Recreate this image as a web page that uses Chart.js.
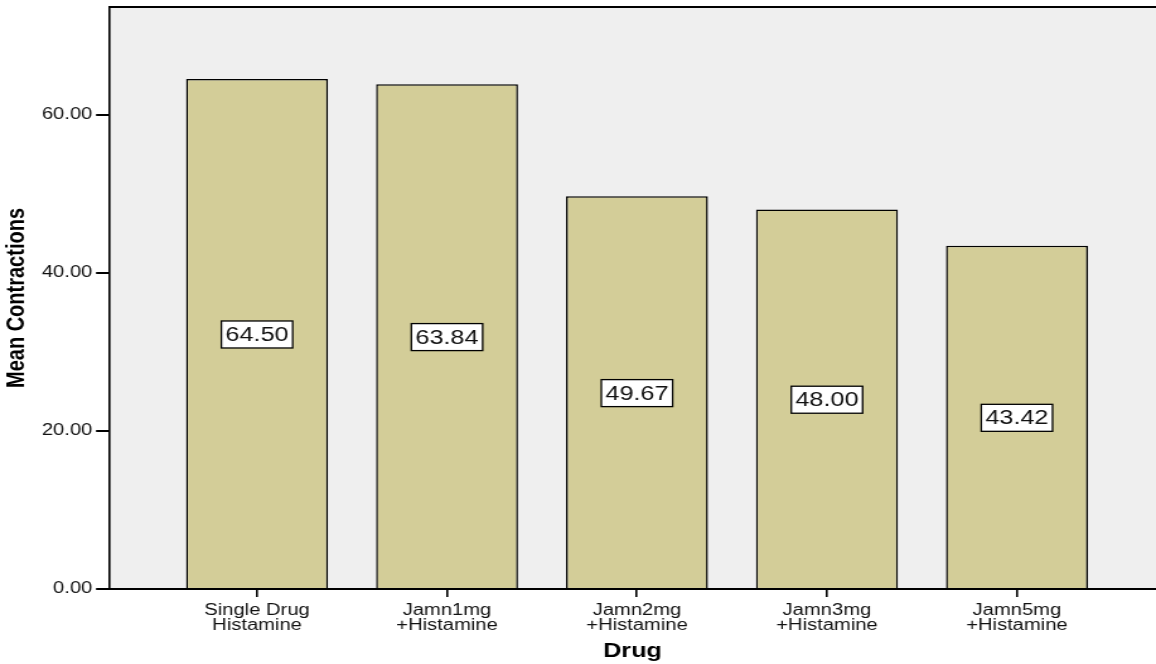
<!DOCTYPE html>
<html>
<head>
<meta charset="utf-8">
<script src="https://cdn.jsdelivr.net/npm/chart.js@4/dist/chart.umd.min.js"></script>
<style>
  html, body { margin: 0; padding: 0; background: #ffffff; overflow: hidden; }
  #wrap { width: 917px; height: 664px; transform: scaleX(1.2606); transform-origin: 0 0; }
</style>
</head>
<body>
<div id="wrap"><canvas id="c" width="917" height="664"></canvas></div>
<script>
// Mean contractions per drug treatment
const categories = [
  ['Single Drug', 'Histamine'],
  ['Jamn1mg', '+Histamine'],
  ['Jamn2mg', '+Histamine'],
  ['Jamn3mg', '+Histamine'],
  ['Jamn5mg', '+Histamine']
];
const meanContractions = [64.50, 63.84, 49.67, 48.00, 43.42];
const yTicks = [0, 20, 40, 60];

const FONT = '"Liberation Sans", Arial, sans-serif';

// Grey plot panel with a top frame line
const panelPlugin = {
  id: 'panel',
  beforeDraw(chart) {
    const { ctx, chartArea: a } = chart;
    ctx.save();
    ctx.fillStyle = '#efefef';
    ctx.fillRect(a.left, a.top, a.right - a.left, a.bottom - a.top);
    ctx.strokeStyle = '#000';
    ctx.lineWidth = 2;
    ctx.beginPath();
    ctx.moveTo(a.left, a.top);
    ctx.lineTo(a.right, a.top);
    ctx.stroke();
    ctx.restore();
  }
};

// Boxed value label at the middle of each bar
const valueLabelPlugin = {
  id: 'valueLabels',
  afterDatasetsDraw(chart) {
    const { ctx } = chart;
    const meta = chart.getDatasetMeta(0);
    ctx.save();
    ctx.font = '20px ' + FONT;
    ctx.textAlign = 'center';
    ctx.textBaseline = 'middle';
    meta.data.forEach((bar, i) => {
      const txt = meanContractions[i].toFixed(2);
      const w = ctx.measureText(txt).width + 6.5;
      const h = 27;
      const cx = bar.x;
      const cy = (bar.y + bar.base) / 2 + 1;
      ctx.fillStyle = '#ffffff';
      ctx.fillRect(cx - w / 2, cy - h / 2, w, h);
      ctx.strokeStyle = '#000';
      ctx.lineWidth = 1.3;
      ctx.strokeRect(cx - w / 2, cy - h / 2, w, h);
      ctx.fillStyle = '#111';
      ctx.fillText(txt, cx, cy + 1);
    });
    ctx.restore();
  }
};

new Chart(document.getElementById('c'), {
  type: 'bar',
  data: {
    datasets: [{
      label: 'Mean Contractions',
      data: meanContractions.map((v, i) => ({ x: i, y: v })),
      backgroundColor: '#d3cd98',
      borderColor: '#000000',
      borderWidth: 1.5,
      borderSkipped: 'bottom',
      barPercentage: 0.747,
      categoryPercentage: 1.0
    }]
  },
  options: {
    responsive: false,
    animation: false,
    devicePixelRatio: 1,
    layout: { padding: { top: 7, right: 0, bottom: 0, left: 0 } },
    plugins: {
      legend: { display: false },
      tooltip: { enabled: false }
    },
    scales: {
      x: {
        type: 'linear',
        offset: false,
        min: -0.779,
        max: 4.732,
        afterFit(scale) {
          scale.height = 75;
          scale.paddingLeft = 0;
          scale.paddingRight = 0;
        },
        afterBuildTicks(scale) { scale.ticks = categories.map((c, i) => ({ value: i })); },
        ticks: {
          autoSkip: false,
          maxRotation: 0,
          padding: 6,
          color: '#111',
          font: { family: FONT, size: 16, lineHeight: 0.95 },
          callback: (v) => categories[v]
        },
        grid: {
          offset: false,
          drawOnChartArea: false,
          drawTicks: true,
          tickLength: 8,
          color: '#000',
          lineWidth: 1.6
        },
        border: { display: true, color: '#000', width: 2 },
        title: {
          display: true,
          text: 'Drug',
          color: '#000',
          font: { family: FONT, size: 20, weight: 'bold' },
          padding: { top: 0, bottom: 1 }
        }
      },
      y: {
        min: 0,
        max: 73.6,
        afterFit(scale) {
          scale.width = 86.5;
          scale.paddingTop = 0;
          scale.paddingBottom = 0;
        },
        afterBuildTicks(scale) { scale.ticks = yTicks.map(v => ({ value: v })); },
        ticks: {
          padding: 3,
          color: '#111',
          font: { family: FONT, size: 16 },
          callback: (v) => Number(v).toFixed(2)
        },
        grid: {
          drawOnChartArea: false,
          drawTicks: true,
          tickLength: 10.3,
          color: '#000',
          lineWidth: 2
        },
        border: { display: true, color: '#000', width: 1.6 },
        title: {
          display: true,
          text: 'Mean Contractions',
          color: '#000',
          font: { family: FONT, size: 20, weight: 'bold' },
          padding: { top: 1, bottom: 0 }
        }
      }
    }
  },
  plugins: [panelPlugin, valueLabelPlugin]
});
</script>
</body>
</html>
